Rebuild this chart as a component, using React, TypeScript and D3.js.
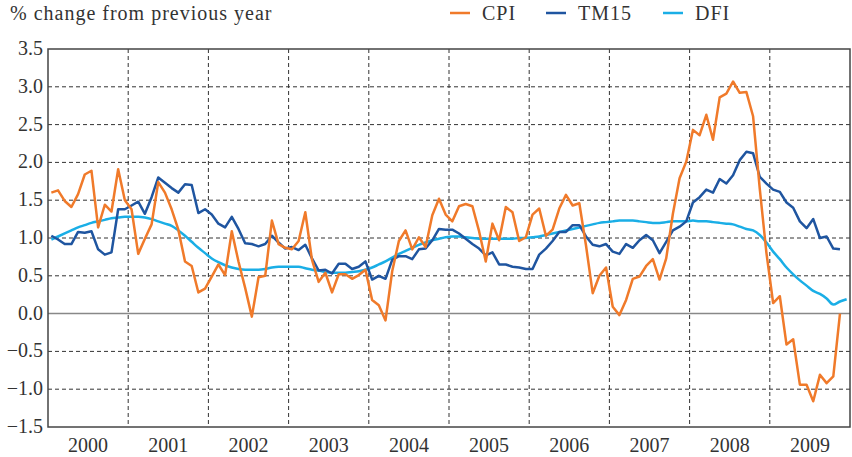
import React from "react";
import * as d3 from "d3";

const years = ["2000","2001","2002","2003","2004","2005","2006","2007","2008","2009"];
const yTicks = [-1.5,-1.0,-0.5,0,0.5,1.0,1.5,2.0,2.5,3.0,3.5];

const cpi = [
  1.60,1.63,1.49,1.41,1.58,1.84,1.89,1.14,1.44,1.35,1.91,1.50,
  1.38,0.79,0.99,1.18,1.74,1.60,1.38,1.11,0.69,0.63,0.28,0.33,
  0.49,0.65,0.51,1.09,0.69,0.34,-0.04,0.48,0.50,1.23,0.92,0.87,
  0.85,0.96,1.34,0.71,0.42,0.54,0.28,0.52,0.52,0.46,0.51,0.58,
  0.18,0.11,-0.09,0.56,0.96,1.10,0.85,1.01,0.88,1.30,1.52,1.31,
  1.22,1.42,1.45,1.42,1.09,0.69,1.19,0.97,1.41,1.34,0.96,1.01,
  1.31,1.39,1.03,1.11,1.39,1.57,1.43,1.46,0.90,0.27,0.50,0.61,
  0.09,-0.02,0.18,0.46,0.49,0.63,0.72,0.45,0.73,1.32,1.79,2.01,
  2.43,2.36,2.63,2.30,2.86,2.91,3.07,2.92,2.93,2.61,1.65,0.80,
  0.14,0.23,-0.41,-0.34,-0.94,-0.94,-1.16,-0.81,-0.92,-0.83,0.00
];

const tm15 = [
  1.03,0.98,0.92,0.92,1.08,1.07,1.09,0.85,0.78,0.81,1.38,1.38,
  1.43,1.48,1.32,1.54,1.80,1.73,1.66,1.60,1.71,1.70,1.33,1.38,
  1.31,1.19,1.14,1.28,1.12,0.93,0.92,0.89,0.92,1.03,0.94,0.86,
  0.88,0.84,0.91,0.73,0.57,0.58,0.53,0.66,0.66,0.59,0.62,0.69,
  0.45,0.50,0.46,0.71,0.76,0.76,0.72,0.85,0.86,0.97,1.12,1.11,
  1.11,1.06,0.99,0.92,0.86,0.77,0.81,0.65,0.65,0.62,0.61,0.59,
  0.59,0.78,0.86,0.96,1.08,1.08,1.17,1.17,1.02,0.91,0.89,0.92,
  0.82,0.79,0.92,0.87,0.97,1.04,0.97,0.80,0.95,1.10,1.15,1.22,
  1.47,1.54,1.64,1.60,1.78,1.72,1.83,2.03,2.14,2.12,1.81,1.72,
  1.64,1.61,1.47,1.40,1.22,1.13,1.25,1.00,1.02,0.86,0.85
];

const dfi = [
  0.98,1.02,1.06,1.10,1.14,1.17,1.20,1.22,1.24,1.26,1.27,1.28,
  1.28,1.28,1.27,1.25,1.22,1.19,1.16,1.10,1.03,0.95,0.87,0.80,
  0.73,0.68,0.64,0.61,0.59,0.58,0.58,0.58,0.59,0.61,0.62,0.62,
  0.62,0.62,0.60,0.58,0.57,0.55,0.54,0.54,0.54,0.55,0.56,0.58,
  0.61,0.65,0.69,0.74,0.79,0.83,0.87,0.91,0.94,0.97,0.99,1.01,
  1.02,1.02,1.01,1.00,0.99,0.99,0.99,0.99,0.99,0.99,1.00,1.00,
  1.01,1.02,1.04,1.06,1.08,1.10,1.12,1.14,1.16,1.18,1.20,1.21,
  1.22,1.23,1.23,1.23,1.22,1.21,1.20,1.20,1.21,1.22,1.22,1.22,
  1.23,1.22,1.22,1.21,1.20,1.19,1.18,1.15,1.12,1.10,1.04,0.94,
  0.82,0.72,0.61,0.52,0.44,0.37,0.30,0.26,0.20,0.12,0.16,0.19
];

const seriesNames = ["CPI", "TM15", "DFI"];
const seriesColors = ["#F07A2A", "#1F55A0", "#1AAEE6"];

const W = 852, H = 457;
const L = 48, R = 850, T = 49, B = 427;
const FONT = "'Liberation Serif', 'Times New Roman', serif";

export default function App() {
  const x = d3.scaleLinear().domain([0, 120]).range([L, R]);
  const y = d3.scaleLinear().domain([-1.5, 3.5]).range([B, T]);
  const line = d3.line<number>().x((_, i) => x(i + 0.5)).y((d) => y(d));
  const smooth = d3.line<number>().x((_, i) => x(i + 0.5)).y((d) => y(d)).curve(d3.curveMonotoneX);
  const fmt = (v: number) => (v < 0 ? "\u2212" : "") + d3.format(".1f")(Math.abs(v));
  const data = [cpi, tm15, dfi];
  const legendX = [450, 546, 663];

  return (
    <svg width={W} height={H} style={{ position: "absolute", left: 0, top: 0, background: "#fff" }} fontFamily={FONT}>
      <text x={10} y={20} fontSize={20} fill="#333" letterSpacing={1}>% change from previous year</text>
      {seriesNames.map((n, k) => (
        <g key={n}>
          <line x1={legendX[k]} x2={legendX[k] + 20} y1={13} y2={13} stroke={seriesColors[k]} strokeWidth={2.5} />
          <text x={legendX[k] + 32} y={20} fontSize={20} fill="#333" letterSpacing={1}>{n}</text>
        </g>
      ))}
      {yTicks.filter((v) => v !== 0 && v !== 3.5 && v !== -1.5).map((v) => (
        <line key={v} x1={L} x2={R} y1={y(v)} y2={y(v)} stroke="#333" strokeWidth={1} strokeDasharray="4,3" />
      ))}
      {d3.range(1, 10).map((k) => (
        <line key={k} x1={x(k * 12)} x2={x(k * 12)} y1={T} y2={B} stroke="#333" strokeWidth={1} strokeDasharray="4,3" />
      ))}
      <line x1={L} x2={R} y1={y(0)} y2={y(0)} stroke="#888" strokeWidth={1.5} />
      <rect x={L} y={T} width={R - L} height={B - T} fill="none" stroke="#444" strokeWidth={1.5} />
      {yTicks.map((v) => (
        <text key={v} x={43} y={y(v) + 6} fontSize={20} textAnchor="end" fill="#333">{fmt(v)}</text>
      ))}
      {years.map((yr, k) => (
        <text key={yr} x={x(k * 12 + 6)} y={452} fontSize={20} textAnchor="middle" fill="#333">{yr}</text>
      ))}
      <path d={smooth(dfi) || ""} fill="none" stroke={seriesColors[2]} strokeWidth={2.5} strokeLinejoin="round" />
      <path d={line(tm15) || ""} fill="none" stroke={seriesColors[1]} strokeWidth={2.5} strokeLinejoin="round" />
      <path d={line(cpi) || ""} fill="none" stroke={seriesColors[0]} strokeWidth={2.5} strokeLinejoin="round" />
    </svg>
  );
}
